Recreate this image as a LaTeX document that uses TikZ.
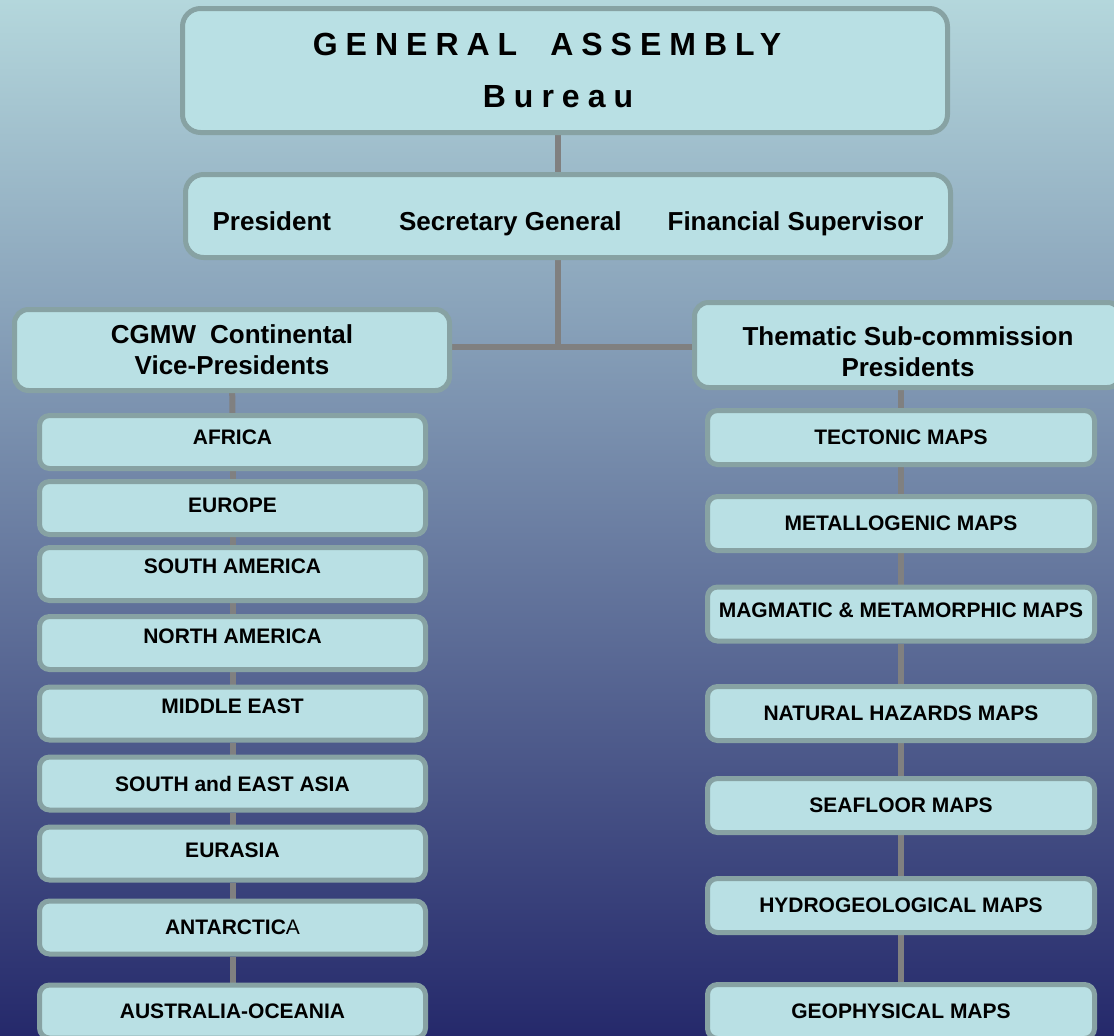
\documentclass[tikz,border=0pt]{standalone}
\usepackage{fontspec}
\setmainfont{Liberation Sans}
\newfontfamily\spacedfont[LetterSpace=25]{Liberation Sans}
\usetikzlibrary{positioning}
\definecolor{skyTop}{RGB}{180,215,220}
\definecolor{skyMid}{RGB}{126,146,168}
\definecolor{skyBottom}{RGB}{37,41,107}
\definecolor{boxFill}{RGB}{185,224,228}
\definecolor{boxEdge}{RGB}{135,162,163}
\definecolor{linkGray}{RGB}{128,128,128}
\pgfdeclarelayer{sky}
\pgfdeclarelayer{links}
\pgfsetlayers{sky,links,main}

\begin{document}
\begin{tikzpicture}
    [x=1pt, y=-1pt,
    every node/.style={fill=boxFill, draw=boxEdge, line width=5pt,
    rectangle, rounded corners=10pt, align=center, inner sep=0pt,
    font=\bfseries},
    bureauBox/.style={rounded corners=18pt, minimum width=765pt},
    head/.style={rounded corners=14pt,
    font=\fontsize{26}{31}\selectfont\bfseries},
    region/.style={minimum width=386pt, minimum height=53pt,
    font=\fontsize{21}{25}\selectfont\bfseries},
    theme/.style={minimum width=387pt, minimum height=54pt,
    font=\fontsize{21}{25}\selectfont\bfseries},
    lift/.style={text depth=#1},
    link/.style={draw=linkGray, line width=6pt}]
    \useasboundingbox (0,0) rectangle (1114,1036);
    \clip (0,0) rectangle (1114,1036);
    \node [bureauBox, minimum height=124pt,
        font=\spacedfont\fontsize{32}{52}\selectfont\bfseries]
        (assembly) at (565,70.5)
        {GENERAL\hspace{33pt}ASSEMBLY\makebox[36pt]{}\\Bureau\makebox[14pt]{}};
    \node [bureauBox, minimum height=83pt, text height=35pt,
        font=\fontsize{26}{31}\selectfont\bfseries]
        (officers) at (568,216)
        {President\hspace{68pt}Secretary General\hspace{46pt}Financial Supervisor};
    \coordinate (junction) at (558,347);
    \node [head, minimum width=435pt, minimum height=81pt]
        (cgmw) at (232,350) {CGMW\hspace{14pt}Continental\\Vice-Presidents};
    \node [head, minimum width=427pt, minimum height=85pt, text height=62.5pt]
        (thematic) at (908,345) {Thematic Sub-commission\\Presidents};
    \node [region, lift=10pt] (africa) at (232.5,442) {AFRICA};
    \node [region, lift=6pt] (europe) at (232.5,508) {EUROPE};
    \node [region, lift=16pt] (southAmerica) at (232.5,574) {SOUTH AMERICA};
    \node [region, lift=14pt] (northAmerica) at (232.5,643) {NORTH AMERICA};
    \node [region, lift=15pt] (middleEast) at (232.5,713.5) {MIDDLE EAST};
    \node [region] (southEastAsia) at (232.5,783.5) {SOUTH and EAST ASIA};
    \node [region, lift=7pt] (eurasia) at (232.5,853.5) {EURASIA};
    \node [region] (antarctica) at (232.5,927.5) {ANTARCTIC{\mdseries A}};
    \node [region] (australia) at (232.5,1011.5) {AUSTRALIA-OCEANIA};
    \node [theme] (tectonic) at (901,437.5) {TECTONIC MAPS};
    \node [theme] (metallogenic) at (901,523.5) {METALLOGENIC MAPS};
    \node [theme, lift=8pt] (magmatic) at (901,614) {MAGMATIC \& METAMORPHIC MAPS};
    \node [theme] (hazards) at (901,713.5) {NATURAL HAZARDS MAPS};
    \node [theme] (seafloor) at (901,805.5) {SEAFLOOR MAPS};
    \node [theme] (hydro) at (901,905.5) {HYDROGEOLOGICAL MAPS};
    \node [theme] (geophysical) at (901,1011.5) {GEOPHYSICAL MAPS};
    \begin{pgfonlayer}{links}
        \draw [link] (assembly.south -| junction) -- (officers.north -| junction);
        \draw [link] (officers.south -| junction) -- (junction);
        \draw [link] (cgmw.east |- junction) -- (thematic.west |- junction);
        \draw [link] (tectonic.north |- thematic.south) -- (tectonic.north);
        \foreach \a/\b in {cgmw/africa, africa/europe, europe/southAmerica,
            southAmerica/northAmerica, northAmerica/middleEast,
            middleEast/southEastAsia, southEastAsia/eurasia,
            eurasia/antarctica, antarctica/australia,
            tectonic/metallogenic, metallogenic/magmatic, magmatic/hazards,
            hazards/seafloor, seafloor/hydro, hydro/geophysical}
            \draw [link] (\a) -- (\b);
    \end{pgfonlayer}
    \begin{pgfonlayer}{sky}
        \shade [top color=skyTop, middle color=skyMid, bottom color=skyBottom]
            (0,0) rectangle (1114,1036);
    \end{pgfonlayer}
\end{tikzpicture}
\end{document}
